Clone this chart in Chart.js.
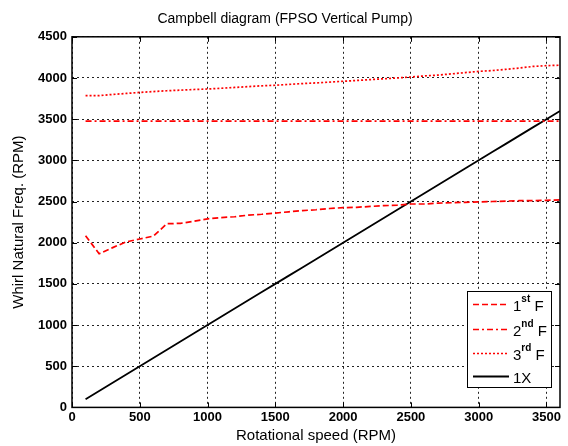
<!DOCTYPE html>
<html>
<head>
<meta charset="utf-8">
<script src="https://cdn.jsdelivr.net/npm/chart.js@4.4.0/dist/chart.umd.min.js"></script>
<style>
  html, body { margin: 0; padding: 0; background: #fff; }
  #wrap { position: relative; width: 568px; height: 446px; }
</style>
</head>
<body>
<div id="wrap"><canvas id="campbell" width="568" height="446"></canvas></div>
<script>
//Velocidad de rotación (RPM)
const speeds = [100, 200, 300, 400, 500, 600, 700, 800, 900, 1000, 1100, 1200, 1300, 1400, 1500, 1600, 1700, 1800,
  1900, 2000, 2100, 2200, 2300, 2400, 2500, 2600, 2700, 2800, 2900, 3000, 3100, 3200, 3300, 3400, 3500, 3600];

//Frecuencias naturales
const firstF = [2085, 1866, 1940, 2010, 2045, 2080, 2230, 2235, 2260, 2290, 2305, 2315, 2335, 2345, 2360, 2375, 2390, 2400,
  2415, 2425, 2430, 2440, 2450, 2455, 2470, 2470, 2480, 2485, 2490, 2495, 2500, 2505, 2510, 2510, 2515, 2520];
const secondF = [3475, 3475, 3475, 3475, 3475, 3475, 3475, 3475, 3475, 3475, 3475, 3475, 3475, 3475, 3475, 3475, 3475, 3475,
  3475, 3475, 3475, 3475, 3475, 3475, 3475, 3475, 3475, 3475, 3475, 3475, 3475, 3475, 3475, 3475, 3475, 3475];
const thirdF = [3786, 3786, 3800, 3812, 3825, 3835, 3845, 3852, 3860, 3866, 3875, 3885, 3895, 3905, 3912, 3922, 3932, 3940,
  3950, 3960, 3970, 3980, 3990, 4000, 4012, 4025, 4035, 4050, 4065, 4080, 4090, 4105, 4120, 4140, 4150, 4155];
const oneX = speeds.slice();

//Marcas de los ejes
const xTicks = [0, 500, 1000, 1500, 2000, 2500, 3000, 3500];
const yTicks = [0, 500, 1000, 1500, 2000, 2500, 3000, 3500, 4000, 4500];

//Leyenda: texto base y superíndice
const legendBase = ["1", "2", "3", "1X"];
const legendSup = ["st", "nd", "rd", ""];
const legendTail = [" F", " F", " F", ""];

const titleText = "Campbell diagram (FPSO Vertical Pump)";
const xLabel = "Rotational speed (RPM)";
const yLabel = "Whirl Natural Freq. (RPM)";

const pts = arr => speeds.map((s, i) => ({ x: s, y: arr[i] }));
const FONT = "'Liberation Sans', Arial, sans-serif";

//Caja, marcas interiores y leyenda estilo MATLAB
const boxPlugin = {
  id: "matlabBox",
  afterDraw(chart) {
    const { ctx, chartArea: a, scales } = chart;
    ctx.save();
    ctx.strokeStyle = "#000";
    ctx.lineWidth = 1.5;
    ctx.setLineDash([]);
    ctx.strokeRect(a.left, a.top, a.right - a.left, a.bottom - a.top);
    ctx.lineWidth = 1;
    const t = 5;
    scales.x.ticks.forEach(tk => {
      const px = Math.round(scales.x.getPixelForValue(tk.value)) + 0.5;
      ctx.beginPath();
      ctx.moveTo(px, a.bottom); ctx.lineTo(px, a.bottom - t);
      ctx.moveTo(px, a.top); ctx.lineTo(px, a.top + t);
      ctx.stroke();
    });
    scales.y.ticks.forEach(tk => {
      const py = Math.round(scales.y.getPixelForValue(tk.value)) + 0.5;
      ctx.beginPath();
      ctx.moveTo(a.left, py); ctx.lineTo(a.left + t, py);
      ctx.moveTo(a.right, py); ctx.lineTo(a.right - t, py);
      ctx.stroke();
    });

    //Leyenda
    const lx = 467, ly = 291, lw = 84, lh = 96;
    ctx.fillStyle = "#fff";
    ctx.fillRect(lx, ly, lw, lh);
    ctx.strokeStyle = "#000";
    ctx.lineWidth = 1;
    ctx.strokeRect(lx + 0.5, ly + 0.5, lw, lh);
    const ds = chart.data.datasets;
    const rowY = [304, 329, 353, 376];
    ds.forEach((d, i) => {
      const y = rowY[i] + 0.5;
      ctx.strokeStyle = d.borderColor;
      ctx.lineWidth = d.borderWidth;
      ctx.setLineDash(d.borderDash || []);
      ctx.beginPath();
      ctx.moveTo(473, y); ctx.lineTo(509, y);
      ctx.stroke();
      ctx.setLineDash([]);
      ctx.fillStyle = "#000";
      ctx.textBaseline = "middle";
      ctx.textAlign = "left";
      let x = 513;
      ctx.font = "15px " + FONT;
      ctx.fillText(legendBase[i], x, y + 2);
      x += ctx.measureText(legendBase[i]).width;
      if (legendSup[i]) {
        ctx.font = "bold 10px " + FONT;
        ctx.fillText(legendSup[i], x, y - 5);
        x += ctx.measureText(legendSup[i]).width;
        ctx.font = "15px " + FONT;
        ctx.fillText(legendTail[i], x, y + 2);
      }
    });
    ctx.restore();
  }
};

const tickFont = { family: FONT, size: 13, weight: "bold" };
const gridStyle = { color: "#222", lineWidth: 1, drawTicks: false };

new Chart(document.getElementById("campbell"), {
  type: "line",
  data: {
    datasets: [
      { label: "1st F", data: pts(firstF), borderColor: "#ff0000", borderWidth: 1.7, borderDash: [6, 3] },
      { label: "2nd F", data: pts(secondF), borderColor: "#ff0000", borderWidth: 1.7, borderDash: [6, 3, 2, 3] },
      { label: "3rd F", data: pts(thirdF), borderColor: "#ff0000", borderWidth: 1.7, borderDash: [2, 2] },
      { label: "1X", data: pts(oneX), borderColor: "#000000", borderWidth: 1.8 }
    ]
  },
  options: {
    responsive: false,
    animation: false,
    elements: { point: { radius: 0 }, line: { tension: 0 } },
    layout: { padding: { right: 8, left: 10, bottom: 0 } },
    plugins: {
      legend: { display: false },
      tooltip: { enabled: false },
      title: {
        display: true, text: titleText, color: "#000",
        font: { family: FONT, size: 14, weight: "normal" },
        padding: { top: 11, bottom: 9 }
      }
    },
    scales: {
      x: {
        type: "linear", min: 0, max: 3600,
        grid: { ...gridStyle },
        border: { display: false, dash: [2, 3] },
        ticks: { color: "#000", font: tickFont, padding: 2, maxRotation: 0, callback: v => String(v) },
        afterBuildTicks(scale) { scale.ticks = xTicks.map(v => ({ value: v })); },
        title: { display: true, text: xLabel, color: "#000", padding: { top: 0, bottom: 1 },
          font: { family: FONT, size: 15 } }
      },
      y: {
        min: 0, max: 4500,
        grid: { ...gridStyle },
        border: { display: false, dash: [2, 3] },
        ticks: { color: "#000", font: tickFont, padding: 5, callback: v => String(v) },
        afterBuildTicks(scale) { scale.ticks = yTicks.map(v => ({ value: v })); },
        title: { display: true, text: yLabel, color: "#000", padding: { top: 0, bottom: 2 },
          font: { family: FONT, size: 15 } },
        afterFit(scale) { scale.width = 62; }
      }
    }
  },
  plugins: [boxPlugin]
});
</script>
</body>
</html>
